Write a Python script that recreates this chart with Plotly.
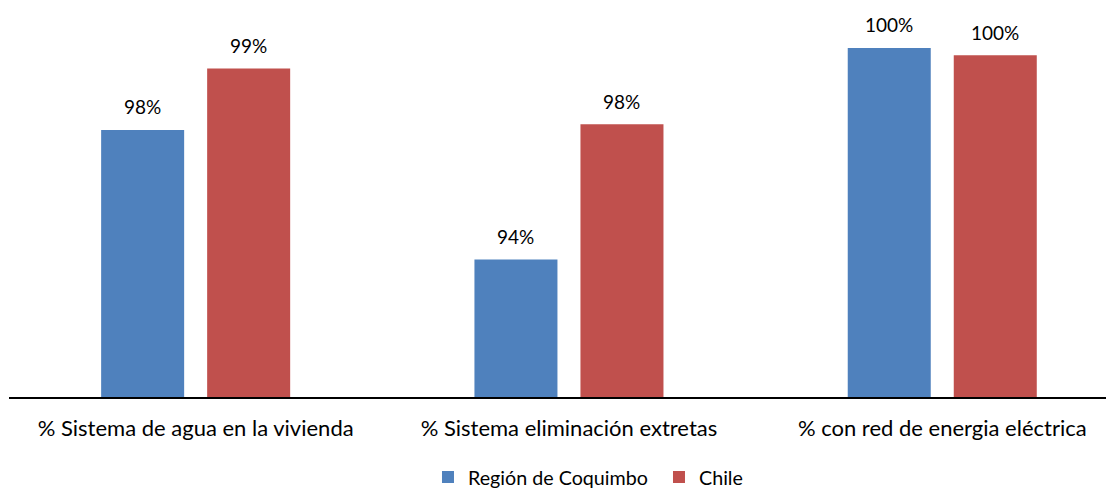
import plotly.graph_objects as go

categories = [
    "% Sistema de agua en la vivienda",
    "% Sistema eliminación extretas",
    "% con red de energia eléctrica",
]
series_names = ["Región de Coquimbo", "Chile"]
coquimbo = [0.9765, 0.9394, 1.0000]
chile = [0.9941, 0.9781, 0.9979]
colors = ["#4F81BD", "#C0504D"]

FONT = "Lato"

fig = go.Figure()
for name, vals, col in zip(series_names, [coquimbo, chile], colors):
    fig.add_trace(go.Bar(
        name=name, x=categories, y=vals,
        marker=dict(color=col, line=dict(width=0)),
    ))

# data labels above each bar
annotations = []
for shift, vals in zip([-53, 53], [coquimbo, chile]):
    for cat, v in zip(categories, vals):
        annotations.append(dict(
            x=cat, y=v, xref="x", yref="y", text=f"{v:.0%}",
            showarrow=False, xshift=shift, yshift=23, yanchor="middle",
            font=dict(family=FONT, size=19, color="#000000"),
        ))

# page body has an 8px margin, so offsets are compensated here
fig.update_layout(
    width=1114, height=489,
    margin=dict(l=1, r=0, t=12, b=99.5),
    paper_bgcolor="white", plot_bgcolor="white",
    barmode="group", bargap=0.432, bargroupgap=0.217,
    font=dict(family=FONT, size=19, color="#000000"),
    annotations=annotations,
    showlegend=True,
    legend=dict(
        orientation="h", x=0.584, xanchor="center", y=-0.213, yanchor="middle",
        font=dict(family=FONT, size=19.7), traceorder="normal",
        entrywidth=186,
    ),
)
fig.update_xaxes(
    range=[-0.5, 2.4815], showline=True, linecolor="#000000", linewidth=2,
    showgrid=False, ticks="", ticklabelstandoff=11,
    tickfont=dict(family=FONT, size=22), automargin=False,
)
fig.update_yaxes(range=[0.9, 1.008], visible=False, showgrid=False, automargin=False)

fig.write_html("out.html")
